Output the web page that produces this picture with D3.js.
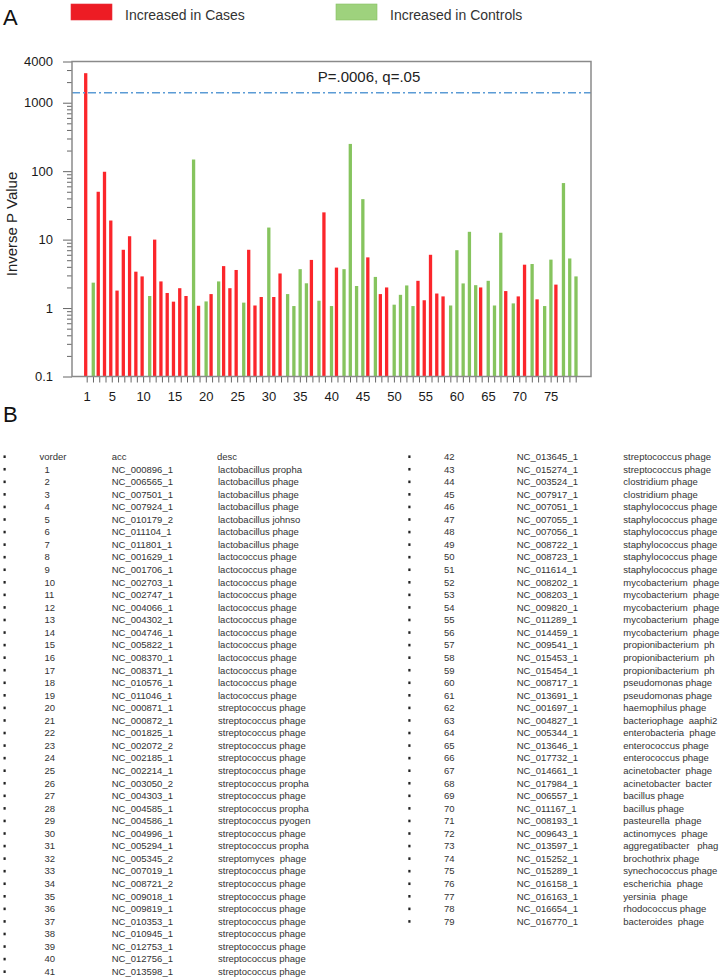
<!DOCTYPE html>
<html>
<head>
<meta charset="utf-8">
<script src="https://cdn.jsdelivr.net/npm/d3@7"></script>
<style>
  html, body { margin: 0; padding: 0; background: #fff; }
  svg { display: block; }
  text { font-family: "Liberation Sans", Arial, sans-serif; }
</style>
</head>
<body>
<svg id="chart" width="720" height="979"></svg>
<script>
// ---------------- data ----------------
const order = d3.range(1, 80);
const pvalInverse = [
  2700, 2.35, 50, 98, 19, 1.8, 7.1, 11.2, 3.4, 2.9,
  1.5, 10, 2.45, 1.66, 1.24, 1.95, 1.5, 148, 1.08, 1.25,
  1.6, 2.45, 4.1, 1.95, 3.6, 1.2, 7.1, 1.09, 1.45, 15,
  1.45, 3.2, 1.6, 1.07, 3.7, 2.3, 5.05, 1.28, 25, 1.07,
  3.9, 3.7, 250, 2.1, 39, 5.5, 2.85, 1.6, 2.0, 1.12,
  1.56, 2.14, 1.07, 2.5, 1.3, 6.0, 1.63, 1.48, 1.09, 7.0,
  2.29, 13, 2.16, 2.0, 2.5, 1.09, 12.6, 1.77, 1.17, 1.48,
  4.3, 4.4, 1.34, 1.07, 5.1, 2.2, 67, 5.3, 2.9
];
// C = increased in cases, K = increased in controls
const direction = (
  "CKCCCCCCCC" + "KCCCCCCKCK" + "CKCCCKCCCK" + "CCKKKKCKCK" +
  "CKKKKCKCCK" + "KKKCCCCCKK" + "KKKCKKKCKC" + "CKCKKCKKK"
).split("");
const seriesNames = ["Increased in Cases", "Increased in Controls"];
const xTickLabels = [1, 5, 10, 15, 20, 25, 30, 35, 40, 45, 50, 55, 60, 65, 70, 75];
const yMajorTicks = [0.1, 1, 10, 100, 1000, 4000];
const thresholdValue = 1400;
const thresholdLabel = "P=.0006, q=.05";
const yAxisTitle = "Inverse P Value";

const accessions = [
  "NC_000896_1","NC_006565_1","NC_007501_1","NC_007924_1","NC_010179_2","NC_011104_1","NC_011801_1",
  "NC_001629_1","NC_001706_1","NC_002703_1","NC_002747_1","NC_004066_1","NC_004302_1","NC_004746_1",
  "NC_005822_1","NC_008370_1","NC_008371_1","NC_010576_1","NC_011046_1","NC_000871_1","NC_000872_1",
  "NC_001825_1","NC_002072_2","NC_002185_1","NC_002214_1","NC_003050_2","NC_004303_1","NC_004585_1",
  "NC_004586_1","NC_004996_1","NC_005294_1","NC_005345_2","NC_007019_1","NC_008721_2","NC_009018_1",
  "NC_009819_1","NC_010353_1","NC_010945_1","NC_012753_1","NC_012756_1","NC_013598_1","NC_013645_1",
  "NC_015274_1","NC_003524_1","NC_007917_1","NC_007051_1","NC_007055_1","NC_007056_1","NC_008722_1",
  "NC_008723_1","NC_011614_1","NC_008202_1","NC_008203_1","NC_009820_1","NC_011289_1","NC_014459_1",
  "NC_009541_1","NC_015453_1","NC_015454_1","NC_008717_1","NC_013691_1","NC_001697_1","NC_004827_1",
  "NC_005344_1","NC_013646_1","NC_017732_1","NC_014661_1","NC_017984_1","NC_006557_1","NC_011167_1",
  "NC_008193_1","NC_009643_1","NC_013597_1","NC_015252_1","NC_015289_1","NC_016158_1","NC_016163_1",
  "NC_016654_1","NC_016770_1"
];
const descriptions = [
  "lactobacillus propha","lactobacillus phage","lactobacillus phage","lactobacillus phage",
  "lactobacillus johnso","lactobacillus phage","lactobacillus phage",
  "lactococcus phage","lactococcus phage","lactococcus phage","lactococcus phage","lactococcus phage",
  "lactococcus phage","lactococcus phage","lactococcus phage","lactococcus phage","lactococcus phage",
  "lactococcus phage","lactococcus phage",
  "streptococcus phage","streptococcus phage","streptococcus phage","streptococcus phage",
  "streptococcus phage","streptococcus phage","streptococcus propha","streptococcus phage",
  "streptococcus propha","streptococcus pyogen","streptococcus phage","streptococcus propha",
  "streptomyces  phage","streptococcus phage","streptococcus phage","streptococcus phage",
  "streptococcus phage","streptococcus phage","streptococcus phage","streptococcus phage",
  "streptococcus phage","streptococcus phage","streptococcus phage","streptococcus phage",
  "clostridium phage","clostridium phage",
  "staphylococcus phage","staphylococcus phage","staphylococcus phage","staphylococcus phage",
  "staphylococcus phage","staphylococcus phage",
  "mycobacterium  phage","mycobacterium  phage","mycobacterium  phage","mycobacterium  phage",
  "mycobacterium  phage",
  "propionibacterium  ph","propionibacterium  ph","propionibacterium  ph",
  "pseudomonas phage","pseudomonas phage","haemophilus phage","bacteriophage  aaphi2",
  "enterobacteria  phage","enterococcus phage","enterococcus phage","acinetobacter  phage",
  "acinetobacter  bacter","bacillus phage","bacillus phage","pasteurella  phage",
  "actinomyces  phage","aggregatibacter   phag","brochothrix phage","synechococcus phage",
  "escherichia  phage","yersinia  phage","rhodococcus phage","bacteroides  phage"
];
const tableHeader = ["vorder", "acc", "desc"];

// ---------------- layout ----------------
const svg = d3.select("#chart");
const frame = { left: 72, right: 591, top: 61.5, bottom: 376.5 };
const colors = { C: "#fb262b", K: "#86c45e" };
const legendColors = ["#ed1c24", "#9ed27d"];

const x = d3.scaleLinear().domain([1, 79]).range([86.7, 575.7]);
const y = d3.scaleLog().domain([0.1, 4000]).range([frame.bottom, frame.top]);

// panel letters
svg.append("text").attr("x", 3).attr("y", 25).attr("font-size", 22).attr("fill", "#111").text("A");
svg.append("text").attr("x", 3).attr("y", 422).attr("font-size", 22).attr("fill", "#111").text("B");

// legend
const legX = [71, 336];
seriesNames.forEach((name, i) => {
  svg.append("rect").attr("x", legX[i]).attr("y", 4).attr("width", 41).attr("height", 16)
    .attr("fill", legendColors[i]).attr("stroke", i ? "#86c063" : "#e8303a").attr("stroke-width", 0.6);
  svg.append("text").attr("x", legX[i] + 54).attr("y", 20).attr("font-size", 14)
    .attr("fill", "#333").text(name);
});

// y axis: minor and major ticks
const minorTicks = [];
[0.1, 1, 10, 100, 1000].forEach(d => {
  for (let k = 2; k <= 9; k++) { const v = d * k; if (v < 4000) minorTicks.push(v); }
});
const gy = svg.append("g").attr("transform", `translate(${frame.left},0)`);
gy.call(d3.axisLeft(y).tickValues(minorTicks).tickSize(5).tickFormat(""));
gy.call(g => g.select(".domain").remove());
const gy2 = svg.append("g").attr("transform", `translate(${frame.left},0)`);
gy2.call(d3.axisLeft(y).tickValues(yMajorTicks).tickSize(9).tickPadding(10)
  .tickFormat(d => String(d)));
gy2.call(g => g.select(".domain").remove());
[gy, gy2].forEach(g => g.selectAll("line").attr("stroke", "#666"));
gy2.selectAll("text").attr("font-size", 13).attr("fill", "#1a1a1a")
  .attr("font-family", "Liberation Sans, Arial, sans-serif");

svg.append("text")
  .attr("transform", `translate(17,${(frame.top + frame.bottom) / 2 + 5}) rotate(-90)`)
  .attr("text-anchor", "middle").attr("font-size", 15).attr("fill", "#222").text(yAxisTitle);

// x axis ticks
const labelSet = new Set(xTickLabels);
const gx = svg.append("g").attr("transform", `translate(0,${frame.bottom})`);
gx.call(d3.axisBottom(x).tickValues(order).tickSize(6).tickPadding(9)
  .tickFormat(d => labelSet.has(d) ? String(d) : ""));
gx.call(g => g.select(".domain").remove());
gx.selectAll("line").attr("stroke", "#666");
gx.selectAll("text").attr("font-size", 13).attr("fill", "#1a1a1a")
  .attr("font-family", "Liberation Sans, Arial, sans-serif");

// bars
const barW = 3.3;
svg.append("g").selectAll("rect").data(order).join("rect")
  .attr("x", d => x(d) + (direction[d - 1] === "C" ? -1 : 0.3) - barW / 2)
  .attr("y", d => y(pvalInverse[d - 1]))
  .attr("width", barW)
  .attr("height", d => frame.bottom - y(pvalInverse[d - 1]))
  .attr("fill", d => colors[direction[d - 1]]);

// threshold line
svg.append("line")
  .attr("x1", frame.left).attr("x2", frame.right)
  .attr("y1", y(thresholdValue)).attr("y2", y(thresholdValue))
  .attr("stroke", "#5b9bd5").attr("stroke-width", 1.4).attr("stroke-dasharray", "8,3,2,3");
svg.append("text").attr("x", 369).attr("y", 82).attr("text-anchor", "middle")
  .attr("font-size", 15).attr("fill", "#222").text(thresholdLabel);

// frame
svg.append("rect")
  .attr("x", frame.left).attr("y", frame.top)
  .attr("width", frame.right - frame.left).attr("height", frame.bottom - frame.top)
  .attr("fill", "none").attr("stroke", "#8a8a8a").attr("stroke-width", 1.5);

// ---------------- table B ----------------
const rowY = d3.scaleLinear().domain([0, 1]).range([456.7, 469.26]);
const tbl = svg.append("g").attr("font-size", 9.5).attr("fill", "#333");
const leftCols = { bullet: 3.5, num: 44.5, head: 39.5, acc: 111.7, desc: 218 };
const rightCols = { bullet: 408.3, num: 444, acc: 516.7, desc: 623.3 };

function bullet(cx, cy) {
  tbl.append("rect").attr("x", cx).attr("y", cy - 1.3).attr("width", 2.2).attr("height", 2.6)
    .attr("fill", "#222");
}
function cell(xp, yp, s) {
  tbl.append("text").attr("x", xp).attr("y", yp)
    .attr("xml:space", "preserve").style("white-space", "pre").text(s);
}
// header row
bullet(leftCols.bullet, rowY(0));
cell(leftCols.head, rowY(0) + 3.3, tableHeader[0]);
cell(leftCols.acc, rowY(0) + 3.3, tableHeader[1]);
cell(leftCols.desc - 1, rowY(0) + 3.3, tableHeader[2]);

order.forEach((n, i) => {
  const left = n <= 41;
  const c = left ? leftCols : rightCols;
  const r = left ? n : n - 42;
  const cy = rowY(r);
  bullet(c.bullet, cy);
  cell(c.num, cy + 3.3, String(n));
  cell(c.acc, cy + 3.3, accessions[i]);
  cell(c.desc, cy + 3.3, descriptions[i]);
});
</script>
</body>
</html>
